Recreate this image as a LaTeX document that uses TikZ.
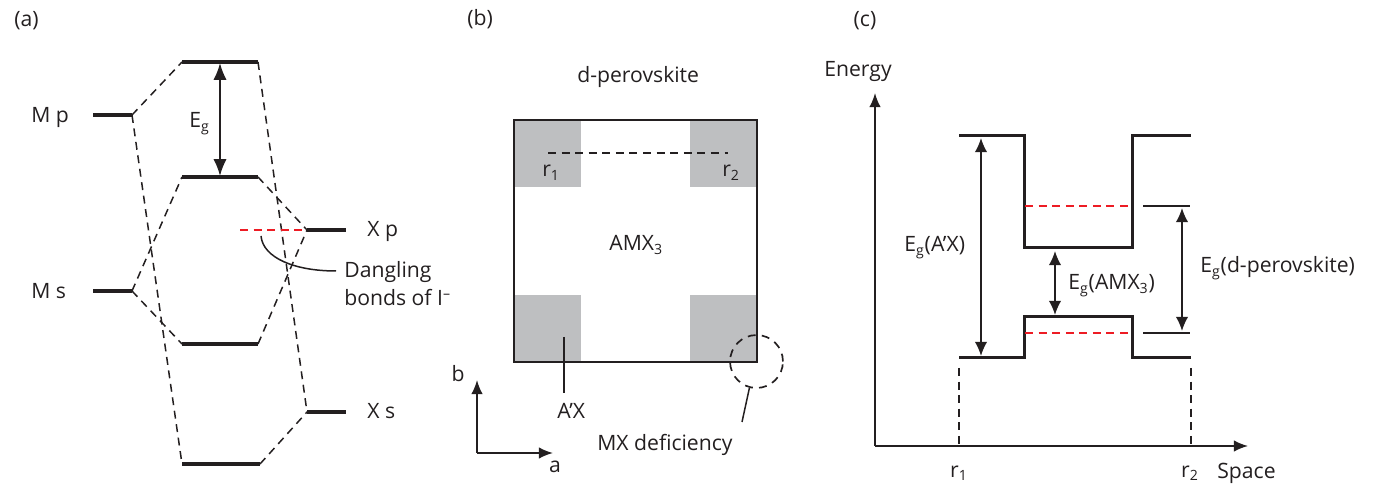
\documentclass[tikz,border=0pt]{standalone}
\usepackage{fontspec}
\setmainfont{Open Sans}
\usetikzlibrary{arrows.meta}
\definecolor{boxgray}{RGB}{190,191,193}
\definecolor{ink}{RGB}{35,31,32}
\definecolor{redline}{RGB}{237,28,36}
\begin{document}
\begin{tikzpicture}[x=0.567pt,y=-0.567pt,
  lbl/.style={font=\fontsize{12}{16.4}\selectfont, inner sep=0pt, text=ink},
  level/.style={line width=2pt, draw=ink},
  clev/.style={line width=1.7pt, draw=ink},
  corr/.style={dash pattern=on 4.5pt off 3.2pt, line width=0.85pt, draw=ink},
  reddash/.style={dash pattern=on 4.5pt off 3.2pt, line width=0.85pt, draw=redline},
  thinline/.style={line width=0.85pt, draw=ink},
  dblarrow/.style={line width=0.85pt, draw=ink, {Latex[length=8pt,width=7pt]}-{Latex[length=8pt,width=7pt]}},
  bigarrow/.style={line width=1.1pt, draw=ink, {Latex[length=9.5pt,width=7.5pt]}-{Latex[length=9.5pt,width=7.5pt]}},
  axarrow/.style={line width=0.95pt, draw=ink, -{Latex[length=8pt,width=6.5pt]}},
]
\useasboundingbox (0,0) rectangle (1382,484);

% ---------------- (a) ----------------
\node[lbl, anchor=base west] (la) at (14,27) {(a)};
\coordinate (Mp1) at (93,115);  \coordinate (Mp2) at (132,115);
\coordinate (Ms1) at (93,291);  \coordinate (Ms2) at (132,291);
\coordinate (L1a) at (182,62);  \coordinate (L1b) at (258,62);
\coordinate (L2a) at (182,177); \coordinate (L2b) at (258,177);
\coordinate (L3a) at (182,344); \coordinate (L3b) at (258,344);
\coordinate (L4a) at (182,464); \coordinate (L4b) at (260,464);
\coordinate (Xp1) at (307,230); \coordinate (Xp2) at (346,230);
\coordinate (Xs1) at (307,412); \coordinate (Xs2) at (346,412);
\coordinate (Rd1) at (240,230);
\coordinate (EgT) at (220,63);  \coordinate (EgB) at (220,176);
\coordinate (Dg1) at (261,236); \coordinate (Dg2) at (336,271);

\draw[corr] (Mp2) -- (L1a);
\draw[corr] (Mp2) -- (L4a);
\draw[corr] (Ms2) -- (L2a);
\draw[corr] (Ms2) -- (L3a);
\draw[corr] (L1b) -- (Xs1);
\draw[corr] (L2b) -- (Xp1);
\draw[corr] (L3b) -- (Xp1);
\draw[corr] (L4b) -- (Xs1);
\draw[reddash] (Rd1) -- (Xp1);

\draw[level] (Mp1) -- (Mp2);
\draw[level] (Ms1) -- (Ms2);
\draw[level] (L1a) -- (L1b);
\draw[level] (L2a) -- (L2b);
\draw[level] (L3a) -- (L3b);
\draw[level] (L4a) -- (L4b);
\draw[level] (Xp1) -- (Xp2);
\draw[level] (Xs1) -- (Xs2);
\draw[bigarrow] (EgT) -- (EgB);
\draw[thinline] (Dg1) .. controls (263,258) and (295,271) .. (Dg2);

\node[lbl, anchor=base west] (mp) at (31,123) {M p};
\node[lbl, anchor=base west] (ms) at (31,299) {M s};
\node[lbl, anchor=base west] (xp) at (367,237) {X p};
\node[lbl, anchor=base west] (xs) at (367,419) {X s};
\node[lbl, anchor=base west] (eg) at (189,128) {E\textsubscript{g}};
\node[lbl, anchor=base west, align=left] (dang) at (344,306) {Dangling\\bonds of I\textsuperscript{–}};

% ---------------- (b) ----------------
\node[lbl, anchor=base west] (lb) at (467,26) {(b)};
\node[lbl, anchor=base west] (dp) at (577,83) {d-perovskite};
\fill[boxgray] (514,120) rectangle (581,187);
\fill[boxgray] (690,120) rectangle (757,187);
\fill[boxgray] (514,295) rectangle (581,362);
\fill[boxgray] (690,295) rectangle (757,362);
\draw[line width=1.4pt, draw=ink] (514,120) rectangle (757,362);
\coordinate (r1b) at (548,153); \coordinate (r2b) at (728,153);
\draw[corr] (r1b) -- (r2b);
\node[lbl, anchor=base west] (r1) at (542,177) {r\textsubscript{1}};
\node[lbl, anchor=base west] (r2) at (722,177) {r\textsubscript{2}};
\node[lbl, anchor=base west] (amx) at (609,251) {AMX\textsubscript{3}};
\coordinate (ax1) at (564,337); \coordinate (ax2) at (564,393);
\draw[thinline] (ax1) -- (ax2);
\node[lbl, anchor=base west] (apx) at (557,419) {A’X};
\node[circle, minimum size=30pt, inner sep=0pt, draw=ink, line width=0.95pt, dash pattern=on 4.5pt off 3.5pt] (mxc) at (756.5,361.5) {};
\coordinate (mx2) at (742,422);
\draw[thinline] (mxc.-105) -- (mx2);
\node[lbl, anchor=base west] (mxd) at (597,450) {MX deficiency};
\coordinate (or) at (477,453);
\coordinate (bt) at (477,380);
\coordinate (at) at (553,453);
\draw[axarrow] (or) -- (bt);
\draw[axarrow] (or) -- (at);
\node[lbl, anchor=base] (bl) at (458,382) {b};
\node[lbl, anchor=base] (al) at (555,473) {a};

% ---------------- (c) ----------------
\node[lbl, anchor=base] (lc) at (865,27) {(c)};
\node[lbl, anchor=base west] (en) at (824,77) {Energy};
\coordinate (O) at (875,446);
\coordinate (Ytip) at (875,93);
\coordinate (Xtip) at (1248,446);
\draw[axarrow] (O) -- (Ytip);
\draw[axarrow] (O) -- (Xtip);

\coordinate (c1) at (959,136);  \coordinate (c2) at (1024,136);
\coordinate (c3) at (1024,248); \coordinate (c4) at (1132,248);
\coordinate (c5) at (1132,136); \coordinate (c6) at (1191,136);
\draw[clev] (c1) -- (c2) -- (c3) -- (c4) -- (c5) -- (c6);
\coordinate (v1) at (959,358);  \coordinate (v2) at (1024,358);
\coordinate (v3) at (1024,317); \coordinate (v4) at (1132,317);
\coordinate (v5) at (1132,358); \coordinate (v6) at (1191,358);
\draw[clev] (v1) -- (v2) -- (v3) -- (v4) -- (v5) -- (v6);

\coordinate (ra1) at (1025,206); \coordinate (ra2) at (1131,206);
\coordinate (rb1) at (1025,333); \coordinate (rb2) at (1131,333);
\draw[reddash] (ra1) -- (ra2);
\draw[reddash] (rb1) -- (rb2);
\coordinate (ta1) at (1143,206); \coordinate (ta2) at (1190,206);
\coordinate (tb1) at (1143,333); \coordinate (tb2) at (1190,333);
\draw[thinline] (ta1) -- (ta2);
\draw[thinline] (tb1) -- (tb2);

\coordinate (dv1) at (959,368); \coordinate (dv1b) at (959,446);
\coordinate (dv2) at (1191,368); \coordinate (dv2b) at (1191,446);
\draw[corr] (dv1) -- (dv1b);
\draw[corr] (dv2) -- (dv2b);

\coordinate (e1t) at (981,138); \coordinate (e1b) at (981,356);
\coordinate (e2t) at (1055,251); \coordinate (e2b) at (1055,315);
\coordinate (e3t) at (1182,208); \coordinate (e3b) at (1182,331);
\draw[dblarrow] (e1t) -- (e1b);
\draw[dblarrow] (e2t) -- (e2b);
\draw[dblarrow] (e3t) -- (e3b);

\node[lbl, anchor=base west] (egax) at (904,252) {E\textsubscript{g}(A’X)};
\node[lbl, anchor=base west] (egamx) at (1068,290) {E\textsubscript{g}(AMX\textsubscript{3})};
\node[lbl, anchor=base west] (egdp) at (1200,273) {E\textsubscript{g}(d-perovskite)};
\node[lbl, anchor=base] (cr1) at (959,477) {r\textsubscript{1}};
\node[lbl, anchor=base] (cr2) at (1190,477) {r\textsubscript{2}};
\node[lbl, anchor=base west] (sp) at (1217,478) {Space};
\end{tikzpicture}
\end{document}
